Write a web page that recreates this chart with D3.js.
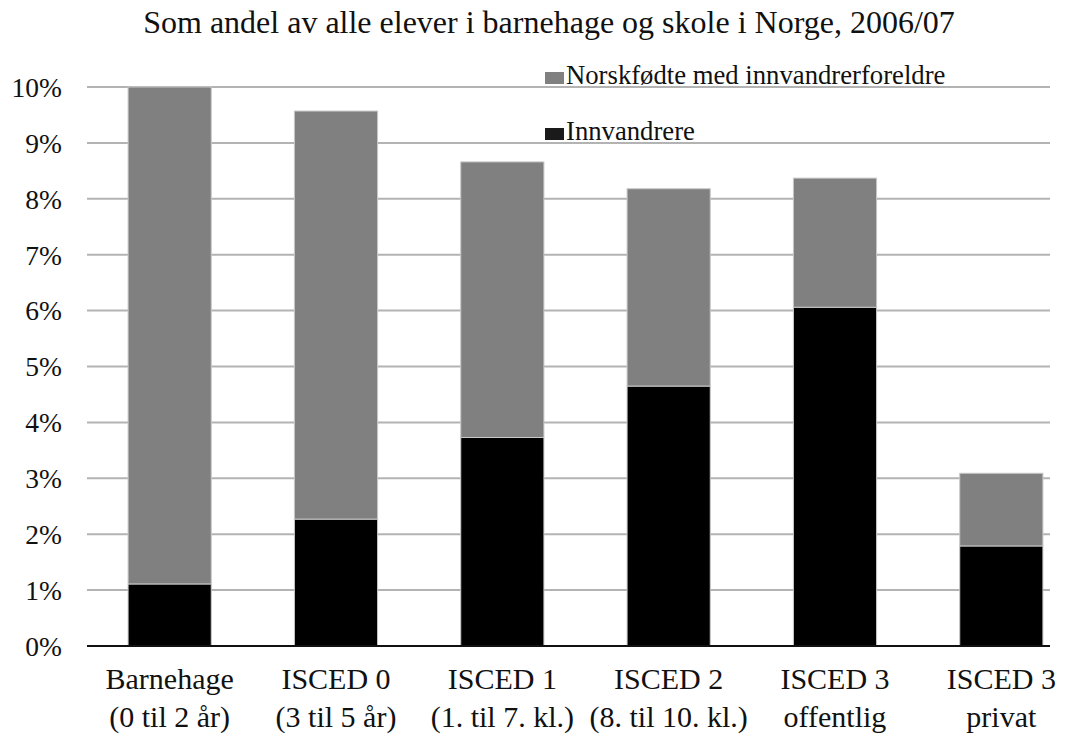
<!DOCTYPE html>
<html lang="no">
<head>
  <meta charset="UTF-8">
  <title>Andel elever med innvandrerbakgrunn</title>
  <script src="https://d3js.org/d3.v7.min.js"></script>
  <style>
    body { margin: 0; background: #fff; }
    svg text { font-family: 'Liberation Serif', 'DejaVu Serif', serif; fill: #111; }
    .grid line { stroke: #b3b3b3; stroke-width: 2; }
    .bar { stroke: #c8c8c8; stroke-width: 1; }
  </style>
</head>
<body>
  <svg id="chart" width="1069" height="734"></svg>
  <script>
    // categories (two-line labels)
    const categories = ['Barnehage', 'ISCED 0', 'ISCED 1', 'ISCED 2', 'ISCED 3 o', 'ISCED 3 p'];
    const labelLine1 = ['Barnehage', 'ISCED 0', 'ISCED 1', 'ISCED 2', 'ISCED 3', 'ISCED 3'];
    const labelLine2 = ['(0 til 2 år)', '(3 til 5 år)', '(1. til 7. kl.)', '(8. til 10. kl.)', 'offentlig', 'privat'];

    // values in percent
    const innvandrere = [1.11, 2.27, 3.73, 4.65, 6.06, 1.79];
    const norskfodte = [8.89, 7.30, 4.93, 3.53, 2.31, 1.30];

    const yTicks = [0, 1, 2, 3, 4, 5, 6, 7, 8, 9, 10];

    const FONT = "'Liberation Serif', 'DejaVu Serif', serif";
    const svg = d3.select('#chart');

    const y = d3.scaleLinear().domain([0, 10]).range([646, 87]);
    // bars run a bit past the right end of the gridlines, as in the original
    const x = d3.scaleBand().domain(categories).range([86.5, 1084.5])
      .paddingInner(0.5).paddingOuter(0.25);

    const gridLeft = 87, gridRight = 1050;

    // title
    svg.append('text')
      .attr('x', 549).attr('y', 33)
      .attr('text-anchor', 'middle')
      .style('font-family', FONT)
      .style('font-size', '32px')
      .text('Som andel av alle elever i barnehage og skole i Norge, 2006/07');

    // gridlines
    svg.append('g').attr('class', 'grid')
      .selectAll('line')
      .data(yTicks.filter(d => d > 0))
      .join('line')
      .attr('x1', gridLeft).attr('x2', gridRight)
      .attr('y1', d => y(d)).attr('y2', d => y(d));

    // y axis labels
    const yAxis = d3.axisLeft(y).tickValues(yTicks).tickSize(0).tickPadding(0)
      .tickFormat(d => d + '%');
    svg.append('g')
      .attr('transform', 'translate(62,0)')
      .call(yAxis)
      .attr('font-family', FONT)
      .call(g => g.select('.domain').remove())
      .call(g => g.selectAll('text').style('font-family', FONT).style('font-size', '27.5px')
        .attr('dy', '0.34em').style('fill', '#111'));

    // stacked bars
    const stackData = categories.map((c, i) => ({ cat: c, innv: innvandrere[i], norsk: norskfodte[i] }));
    const series = d3.stack().keys(['innv', 'norsk'])(stackData);
    const colors = { innv: '#000000', norsk: '#808080' };

    svg.append('g')
      .selectAll('g')
      .data(series)
      .join('g')
      .attr('fill', d => colors[d.key])
      .selectAll('rect')
      .data(d => d)
      .join('rect')
      .attr('class', 'bar')
      .attr('x', d => x(d.data.cat))
      .attr('width', x.bandwidth())
      .attr('y', d => y(d[1]))
      .attr('height', d => y(d[0]) - y(d[1]));

    // baseline
    svg.append('line')
      .attr('x1', gridLeft).attr('x2', gridRight)
      .attr('y1', y(0)).attr('y2', y(0))
      .attr('stroke', '#111').attr('stroke-width', 2);

    // x labels
    const xl = svg.append('g').selectAll('text')
      .data(categories)
      .join('text')
      .attr('text-anchor', 'middle')
      .attr('x', d => x(d) + x.bandwidth() / 2)
      .style('font-family', FONT)
      .style('font-size', '30px');
    xl.append('tspan').attr('x', d => x(d) + x.bandwidth() / 2).attr('y', 689)
      .text((d, i) => labelLine1[i]);
    xl.append('tspan').attr('x', d => x(d) + x.bandwidth() / 2).attr('y', 727)
      .text((d, i) => labelLine2[i]);

    // legend
    const legend = [
      { name: 'Norskfødte med innvandrerforeldre', color: colors.norsk, y: 84 },
      { name: 'Innvandrere', color: '#1a1a1a', y: 140 }
    ];
    const lg = svg.append('g').selectAll('g').data(legend).join('g');
    lg.append('rect')
      .attr('x', 545).attr('y', d => d.y - 12)
      .attr('width', 19).attr('height', 12)
      .attr('fill', d => d.color);
    lg.append('text')
      .attr('x', 566).attr('y', d => d.y)
      .style('font-family', FONT)
      .style('font-size', '26.7px')
      .text(d => d.name);
  </script>
</body>
</html>
